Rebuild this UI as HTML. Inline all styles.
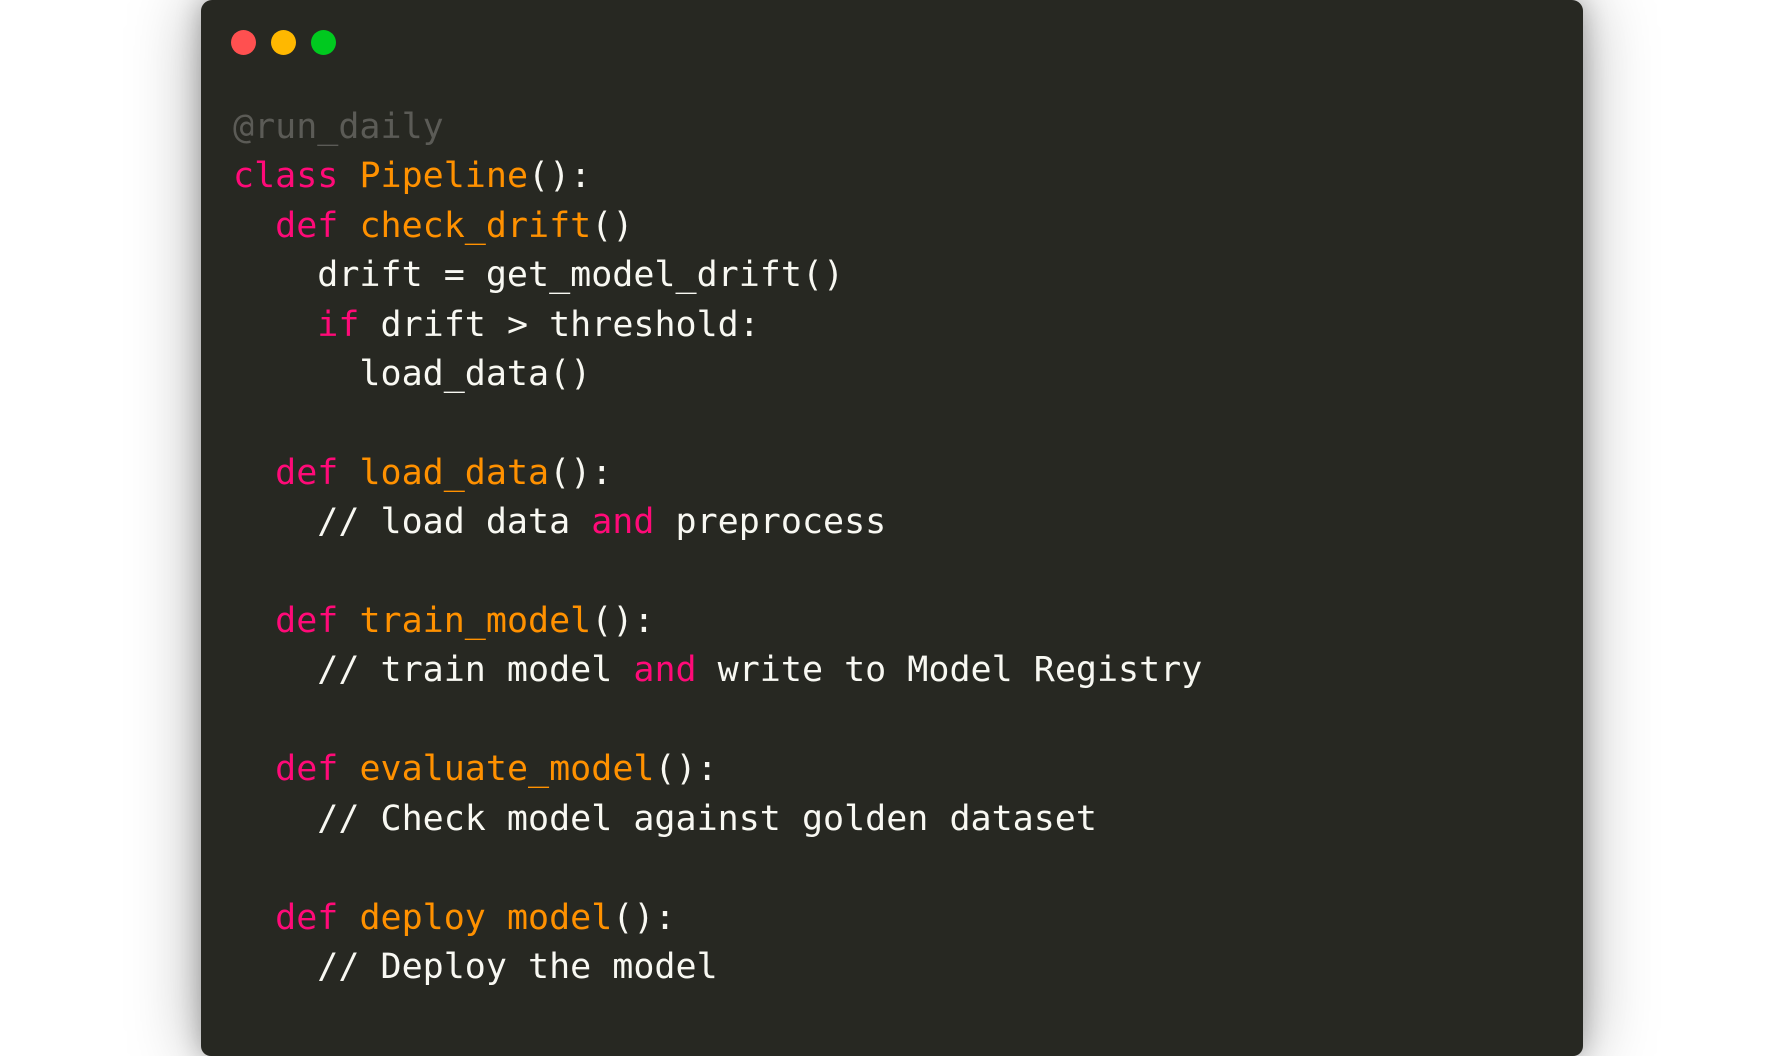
<!DOCTYPE html>
<html><head><meta charset="utf-8"><style>
html,body{margin:0;padding:0;width:1782px;height:1056px;background:#fff;overflow:hidden}
.panel{position:absolute;left:201px;top:0;width:1382px;height:1056px;background:#272822;border-radius:11px 11px 10px 10px;box-shadow:0 0 70px rgba(0,0,0,0.35),0 0 25px rgba(0,0,0,0.25)}
.dot{position:absolute;top:30px;width:25px;height:25px;border-radius:50%}
pre{position:absolute;left:32px;top:103px;margin:0;font-family:"DejaVu Sans Mono","Liberation Mono",monospace;font-size:35px;line-height:49.4px;color:#f8f8f2}
.k{color:#ff0a78}.f{color:#ff9100}.c{color:#5b5b56}
</style></head><body>
<div class="panel">
<div class="dot" style="left:30px;background:#ff5050"></div>
<div class="dot" style="left:70px;background:#ffb800"></div>
<div class="dot" style="left:110px;background:#00c91f"></div>
<pre><span class="c">@run_daily</span>
<span class="k">class</span> <span class="f">Pipeline</span>():
  <span class="k">def</span> <span class="f">check_drift</span>()
    drift = get_model_drift()
    <span class="k">if</span> drift &gt; threshold:
      load_data()

  <span class="k">def</span> <span class="f">load_data</span>():
    // load data <span class="k">and</span> preprocess

  <span class="k">def</span> <span class="f">train_model</span>():
    // train model <span class="k">and</span> write to Model Registry

  <span class="k">def</span> <span class="f">evaluate_model</span>():
    // Check model against golden dataset

  <span class="k">def</span> <span class="f">deploy model</span>():
    // Deploy the model</pre>
</div>
</body></html>
